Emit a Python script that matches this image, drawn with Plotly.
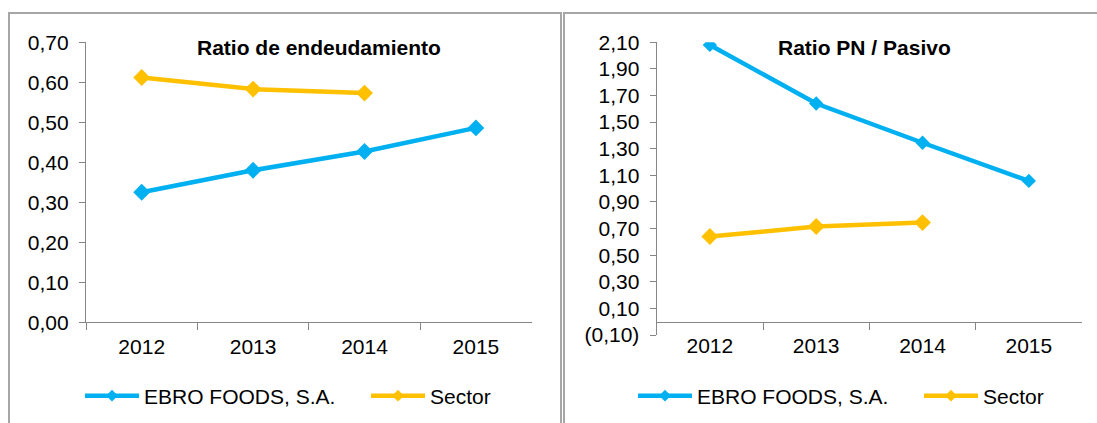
import plotly.graph_objects as go

years = ["2012", "2013", "2014", "2015"]
years_sector = ["2012", "2013", "2014"]

endeud_ebro = [0.325, 0.380, 0.427, 0.486]
endeud_sector = [0.612, 0.583, 0.573]

pn_ebro = [2.08, 1.64, 1.345, 1.058]
pn_sector = [0.640, 0.715, 0.745]

left_ticks = [0.0, 0.1, 0.2, 0.3, 0.4, 0.5, 0.6, 0.7]
left_ticktext = ["0,00", "0,10", "0,20", "0,30", "0,40", "0,50", "0,60", "0,70"]
right_ticks = [-0.1, 0.1, 0.3, 0.5, 0.7, 0.9, 1.1, 1.3, 1.5, 1.7, 1.9, 2.1]
right_ticktext = ["(0,10)", "0,10", "0,30", "0,50", "0,70", "0,90", "1,10", "1,30",
                  "1,50", "1,70", "1,90", "2,10"]

series_names = ["EBRO FOODS, S.A.", "Sector"]
title_left = "Ratio de endeudamiento"
title_right = "Ratio PN / Pasivo"

BLUE = "#00B0F0"
GOLD = "#FFC000"
AXIS = "#868686"
BORDER = "#A6A6A6"
FONT = "Liberation Sans, Arial, sans-serif"

W, H = 1097, 423


def px(x):
    return x / W


def py(y):
    return 1 - y / H


fig = go.Figure()

# left panel traces
fig.add_trace(go.Scatter(x=years, y=endeud_ebro, mode="lines+markers", name=series_names[0],
                         line=dict(color=BLUE, width=4.5),
                         marker=dict(symbol="diamond", size=13, color=BLUE),
                         xaxis="x", yaxis="y", showlegend=False))
fig.add_trace(go.Scatter(x=years_sector, y=endeud_sector, mode="lines+markers", name=series_names[1],
                         line=dict(color=GOLD, width=4.5),
                         marker=dict(symbol="diamond", size=13, color=GOLD),
                         xaxis="x", yaxis="y", showlegend=False))
# right panel traces
fig.add_trace(go.Scatter(x=years, y=pn_ebro, mode="lines+markers", name=series_names[0],
                         line=dict(color=BLUE, width=4.5),
                         marker=dict(symbol="diamond", size=11, color=BLUE),
                         xaxis="x2", yaxis="y2", showlegend=False))
fig.add_trace(go.Scatter(x=years_sector, y=pn_sector, mode="lines+markers", name=series_names[1],
                         line=dict(color=GOLD, width=4.5),
                         marker=dict(symbol="diamond", size=13, color=GOLD),
                         xaxis="x2", yaxis="y2", showlegend=False))

# legend entries
for lg, xa, ya in [("legend", "x", "y"), ("legend2", "x2", "y2")]:
    for name, col in zip(series_names, [BLUE, GOLD]):
        fig.add_trace(go.Scatter(x=[None], y=[None], mode="lines+markers", name=name,
                                 line=dict(color=col, width=4.5),
                                 marker=dict(symbol="diamond", size=9, color=col),
                                 xaxis=xa, yaxis=ya, legend=lg, showlegend=True))

tickfont = dict(family=FONT, size=21, color="#000000")

common_x = dict(type="category", categoryorder="array", categoryarray=years,
                range=[-0.5, 3.5], showline=True, linecolor=AXIS, linewidth=1.3,
                ticks="outside", tickson="boundaries", ticklen=7, tickcolor=AXIS,
                tickwidth=1.3, showgrid=False, zeroline=False, tickfont=tickfont,
                fixedrange=True, ticklabelstandoff=5, automargin=False)

fig.update_layout(
    width=W, height=H, autosize=False,
    margin=dict(l=0, r=0, t=0, b=0, autoexpand=False),
    paper_bgcolor="white", plot_bgcolor="white",
    font=dict(family=FONT, size=21, color="#000000"),
    xaxis=dict(domain=[px(86), px(531.6)], anchor="y", **common_x),
    yaxis=dict(domain=[py(322.3), py(42.3)], anchor="x", range=[0, 0.7],
               tickvals=left_ticks, ticktext=left_ticktext, showline=True,
               linecolor=AXIS, linewidth=1.3, ticks="outside", ticklen=6,
               tickcolor=AXIS, tickwidth=1.3, showgrid=False, zeroline=False,
               tickfont=tickfont, ticklabelstandoff=6, fixedrange=True, automargin=False),
    xaxis2=dict(domain=[px(656.7), px(1082)], anchor="free",
                position=py(335) + (py(42.3) - py(335)) * (0.1 / 2.2), **common_x),
    yaxis2=dict(domain=[py(335), py(42.3)], anchor="x2", range=[-0.1, 2.1],
                tickvals=right_ticks, ticktext=right_ticktext, showline=True,
                linecolor=AXIS, linewidth=1.3, ticks="outside", ticklen=6,
                tickcolor=AXIS, tickwidth=1.3, showgrid=False, zeroline=False,
                tickfont=tickfont, ticklabelstandoff=6, fixedrange=True, automargin=False),
    legend=dict(orientation="h", x=px(80), y=py(396), xanchor="left", yanchor="middle",
                font=dict(family=FONT, size=21, color="#000000"),
                bgcolor="rgba(0,0,0,0)", itemwidth=54, entrywidth=217,
                itemclick=False, itemdoubleclick=False),
    legend2=dict(orientation="h", x=px(633), y=py(396), xanchor="left", yanchor="middle",
                 font=dict(family=FONT, size=21, color="#000000"),
                 bgcolor="rgba(0,0,0,0)", itemwidth=54, entrywidth=217,
                 itemclick=False, itemdoubleclick=False),
    annotations=[
        dict(text="<b>" + title_left + "</b>", x=px(319.4), y=py(47), xref="paper", yref="paper",
             xanchor="center", yanchor="middle", showarrow=False,
             font=dict(family=FONT, size=21, color="#000000")),
        dict(text="<b>" + title_right + "</b>", x=px(864), y=py(47.5), xref="paper", yref="paper",
             xanchor="center", yanchor="middle", showarrow=False,
             font=dict(family=FONT, size=21, color="#000000")),
    ],
    shapes=[
        dict(type="rect", xref="paper", yref="paper", x0=px(9), x1=px(561), y0=py(440), y1=py(13),
             line=dict(color=BORDER, width=2), fillcolor="rgba(0,0,0,0)", layer="below"),
        dict(type="rect", xref="paper", yref="paper", x0=px(564), x1=px(1110), y0=py(440), y1=py(13),
             line=dict(color=BORDER, width=2), fillcolor="rgba(0,0,0,0)", layer="below"),
    ],
)

fig.write_html("out.html", config=dict(displayModeBar=False),
               post_script="document.body.style.margin='0';document.body.style.overflow='hidden';")
